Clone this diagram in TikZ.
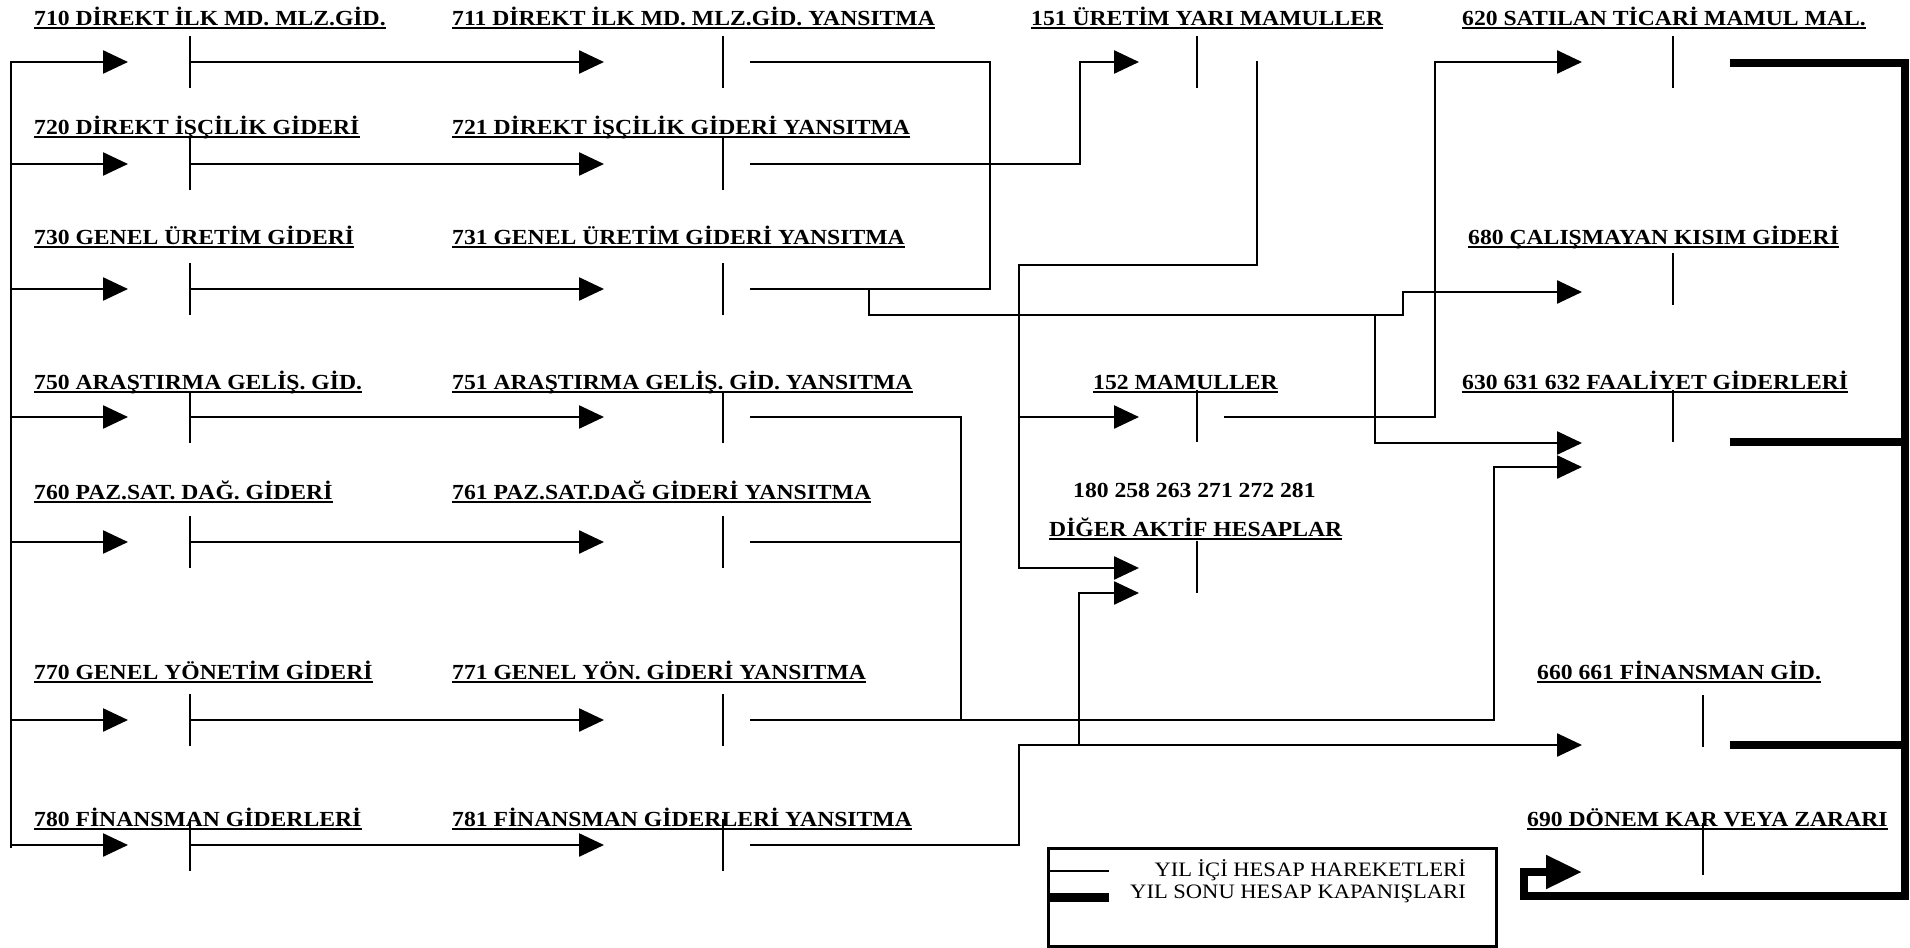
\documentclass[tikz,border=0pt]{standalone}
\usepackage{fontspec}
\setmainfont{Liberation Serif}[FakeStretch=1.1]
\usetikzlibrary{arrows.meta, calc}

\begin{document}
\begin{tikzpicture}[
  x=1pt, y=-1pt,
  font=\fontsize{20.5}{24}\selectfont,
  hesap/.style={anchor=south west, font=\fontsize{21.5}{25}\selectfont\bfseries,
                inner xsep=0pt, inner ysep=2pt, text depth=0pt,
                append after command={(\tikzlastnode.south west) edge[draw, line width=2.2pt] (\tikzlastnode.south east)}},
  tcizgi/.style={line width=2.5pt},
  yil/.style={line width=2.5pt},
  akis/.style={yil, -{Triangle[length=25pt, width=23pt]}},
  kapanis/.style={line width=8pt},
  kakis/.style={kapanis, -{Triangle[length=36pt, width=32pt]}},
  aciklama/.style={anchor=base east, inner sep=0pt},
]
\useasboundingbox (0,0) rectangle (1910,947);

% 7/A maliyet hesaplari ve yansitma hesaplari
\coordinate (govde) at (11,62);
\draw[yil, line cap=rect] (govde) -- (11,847);
\foreach \na/\ta/\nb/\tb/\y/\u in {
    710/DİREKT İLK MD. MLZ.GİD./711/DİREKT İLK MD. MLZ.GİD. YANSITMA/62/28,
    720/DİREKT İŞÇİLİK GİDERİ/721/DİREKT İŞÇİLİK GİDERİ YANSITMA/164/137,
    730/GENEL ÜRETİM GİDERİ/731/GENEL ÜRETİM GİDERİ YANSITMA/289/247,
    750/ARAŞTIRMA GELİŞ. GİD./751/ARAŞTIRMA GELİŞ. GİD. YANSITMA/417/392,
    760/PAZ.SAT. DAĞ. GİDERİ/761/PAZ.SAT.DAĞ GİDERİ YANSITMA/542/502,
    770/GENEL YÖNETİM GİDERİ/771/GENEL YÖN. GİDERİ YANSITMA/720/682,
    780/FİNANSMAN GİDERLERİ/781/FİNANSMAN GİDERLERİ YANSITMA/845/829}{
  \node[hesap] (l\na) at (34,\u) {\na\ \ta};
  \node[hesap] (l\nb) at (452,\u) {\nb\ \tb};
  \coordinate (h\na) at (190,\y);
  \coordinate (h\nb) at (723,\y);
  \coordinate (c\nb) at (750,\y);
  \draw[tcizgi] ($(h\na)+(0,-26)$) -- ($(h\na)+(0,26)$);
  \draw[tcizgi] ($(h\nb)+(0,-26)$) -- ($(h\nb)+(0,26)$);
  \draw[akis] (govde |- h\na) -- ($(h\na)+(-62,0)$);
  \draw[akis] (h\na) -- ($(h\nb)+(-119,0)$);
}

% stok, aktif ve gelir tablosu hesaplari
\node[hesap] (l151) at (1031,28) {151 ÜRETİM YARI MAMULLER};
\node[hesap] (l152) at (1093,392) {152 MAMULLER};
\node[anchor=base west, inner sep=0pt, font=\fontsize{21.5}{25}\selectfont\bfseries] (l180) at (1073,497) {180 258 263 271 272 281};
\node[hesap] (ldiger) at (1049,539) {DİĞER AKTİF HESAPLAR};
\node[hesap] (l620) at (1462,28) {620 SATILAN TİCARİ MAMUL MAL.};
\node[hesap] (l680) at (1468,247) {680 ÇALIŞMAYAN KISIM GİDERİ};
\node[hesap] (l630) at (1462,392) {630 631 632 FAALİYET GİDERLERİ};
\node[hesap] (l660) at (1537,682) {660 661 FİNANSMAN GİD.};
\node[hesap] (l690) at (1527,829) {690 DÖNEM KAR VEYA ZARARI};

\foreach \n/\x/\y in {151/1197/62, 152/1197/416, diger/1197/567, 620/1673/62,
                      680/1673/279, 630/1673/416, 660/1703/721, 690/1703/849}{
  \coordinate (h\n) at (\x,\y);
  \draw[tcizgi] ($(h\n)+(0,-26)$) -- ($(h\n)+(0,26)$);
}

% giris ve cikis noktalari
\coordinate (g151) at (1139,62);
\coordinate (c151) at (1257,61);
\coordinate (g152) at (1139,417);
\coordinate (c152) at (1224,417);
\coordinate (gdiger1) at (1139,568);
\coordinate (gdiger2) at (1139,593);
\coordinate (g620) at (1582,62);
\coordinate (g680) at (1582,292);
\coordinate (g630a) at (1582,443);
\coordinate (g630b) at (1582,467);
\coordinate (g660) at (1582,745);
\coordinate (g690) at (1582,872);
\coordinate (c620) at (1730,63);
\coordinate (c630) at (1730,442);
\coordinate (c660) at (1730,745);

% kirilma noktalari
\coordinate (k1) at (990,289);
\coordinate (k2) at (869,315);
\coordinate (k3) at (1403,315);
\coordinate (k4) at (1375,315);
\coordinate (k5) at (1080,62);
\coordinate (k6) at (1019,265);
\coordinate (k7) at (1435,62);
\coordinate (k8) at (961,719);
\coordinate (k9) at (1494,467);
\coordinate (k10) at (1019,745);
\coordinate (k11) at (1079,745);
\coordinate (k12) at (1905,896);
\coordinate (k13) at (1524,872);

% yil ici hesap hareketleri
\draw[yil] (c711) -| (k1) -- (c731);
\draw[akis] (c731 -| k2) -- (k2) -- (k3) |- (g680);
\draw[akis] (k4) |- (g630a);
\draw[akis] (c721) -| (k5) -- (g151);
\draw[akis] (c151) |- (k6) |- (gdiger1);
\draw[akis] (k6 |- g152) -- (g152);
\draw[akis] (c152) -| (k7) -- (g620);
\draw[yil] (c751) -| (k8);
\draw[yil] (c761) -- (c761 -| k8);
\draw[akis] (c771) -| (k9) -- (g630b);
\draw[akis] (c781) -| (k10) -- (g660);
\draw[akis] (k11) |- (gdiger2);

% yil sonu kapanislari
\draw[kakis] (c620) -| (k12) -| (k13) -- (g690);
\draw[kapanis] (c630) -- (c630 -| k12);
\draw[kapanis] (c660) -- (c660 -| k12);

% aciklama kutusu
\node[draw, line width=2.5pt, anchor=north west, minimum width=448pt, minimum height=98pt, inner sep=0pt] (lejant) at (1047,847) {};
\coordinate (lj1) at (1047,871);
\coordinate (lj2) at (1047,897);
\draw[yil] (lj1) -- ++(62,0);
\draw[line width=9pt] (lj2) -- ++(62,0);
\node[aciklama] (t1) at (1466,876) {YIL İÇİ HESAP HAREKETLERİ};
\node[aciklama] (t2) at (1466,898) {YIL SONU HESAP KAPANIŞLARI};
\end{tikzpicture}
\end{document}
